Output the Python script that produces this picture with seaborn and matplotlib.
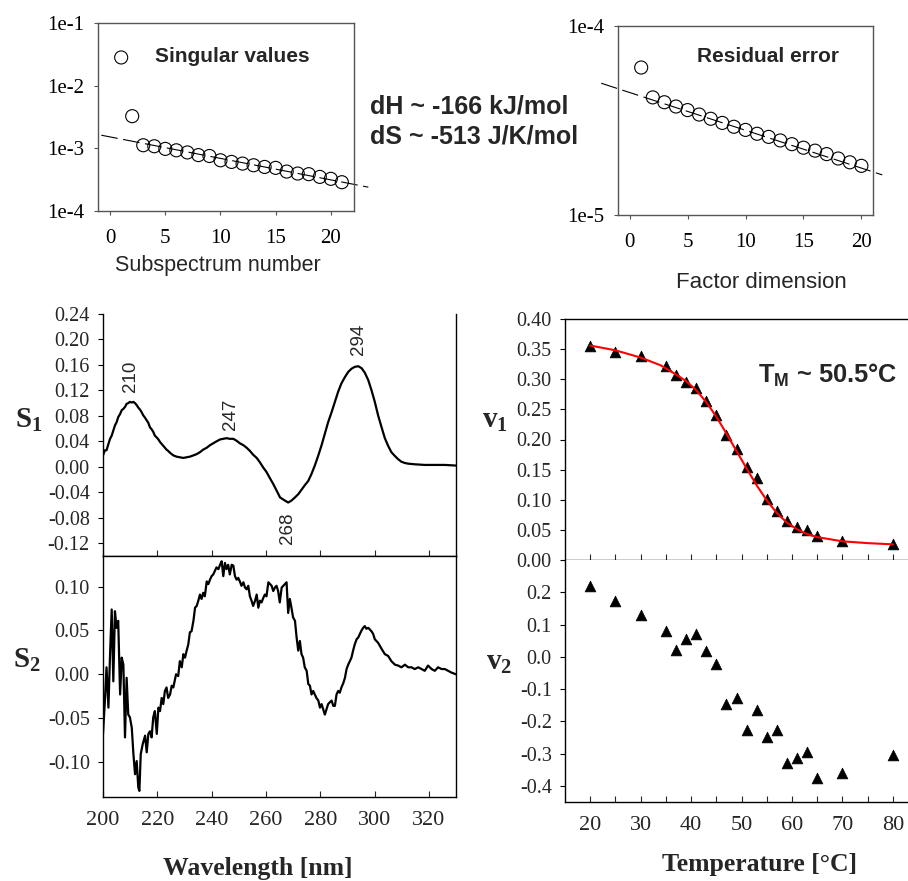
import numpy as np
import matplotlib
matplotlib.use("Agg")
import matplotlib.pyplot as plt
import seaborn as sns
from matplotlib.ticker import FixedLocator, FuncFormatter, NullLocator

# ---------------- data ----------------
sv_index = list(range(1, 22))
sv_values = [2.82e-2, 3.26e-3, 1.12e-3, 1.08e-3, 9.8e-4, 9.3e-4, 8.6e-4, 7.8e-4,
             7.55e-4, 6.45e-4, 6.07e-4, 5.71e-4, 5.37e-4, 5.05e-4, 4.88e-4, 4.26e-4,
             3.96e-4, 3.87e-4, 3.5e-4, 3.26e-4, 2.88e-4]
sv_fit_x = [-0.8, 23.4]
sv_fit_y = [1.62e-3, 2.4e-4]

re_index = list(range(1, 21))
re_values = [6.03e-5, 4.19e-5, 3.95e-5, 3.75e-5, 3.59e-5, 3.40e-5, 3.23e-5, 3.07e-5,
             2.93e-5, 2.82e-5, 2.69e-5, 2.59e-5, 2.48e-5, 2.37e-5, 2.27e-5, 2.19e-5,
             2.10e-5, 1.99e-5, 1.90e-5, 1.82e-5]
re_fit_x = [-2.45, 21.8]
re_fit_y = [4.98e-5, 1.63e-5]

s1_wl = [200.0, 200.7, 201.3, 202.0, 202.6, 203.2, 203.8, 204.4, 205.0, 205.6,
         206.3, 206.9, 207.5, 208.1, 208.7, 209.3, 209.9, 210.6, 211.2, 211.8,
         212.4, 213.0, 213.6, 214.2, 214.8, 215.5, 216.1, 216.7, 217.3, 217.9,
         218.5, 219.1, 219.8, 220.4, 221.0, 221.6, 222.2, 222.8, 223.4, 224.0,
         224.7, 225.3, 225.9, 226.5, 227.1,
         228.3, 229.6, 230.8, 232.0, 233.3, 234.5, 235.7, 236.9, 238.2, 239.4,
         240.6, 241.8, 243.1, 244.3, 245.5, 246.7, 248.0, 249.2, 250.4, 251.7,
         252.9, 254.1, 255.3, 256.6, 257.8, 259.0, 260.2, 261.5, 262.7, 263.9,
         265.2,
         267.0, 268.2, 269.4, 270.7, 271.9, 273.1, 274.3, 275.6, 276.8, 278.0,
         279.3, 280.5, 281.7, 282.9, 284.2, 285.4, 286.6, 287.8, 289.1, 290.3,
         291.5, 292.7, 294.0, 295.2, 296.4, 297.7, 298.9, 300.1, 301.3, 302.6,
         303.8, 305.0, 306.2, 307.5, 308.7, 309.9, 311.2, 312.4,
         314.8, 318.5, 322.2, 325.9, 330.0]
s1_val = [0.018, 0.026, 0.026, 0.036, 0.044, 0.049, 0.057, 0.065, 0.070, 0.078,
          0.083, 0.089, 0.091, 0.094, 0.099, 0.100, 0.102, 0.101, 0.102, 0.100,
          0.097, 0.093, 0.090, 0.086, 0.081, 0.077, 0.073, 0.069, 0.062, 0.059,
          0.055, 0.049, 0.046, 0.043, 0.039, 0.036, 0.033, 0.030, 0.027, 0.025,
          0.022, 0.020, 0.018, 0.017, 0.016,
          0.015, 0.014, 0.015, 0.016, 0.018, 0.020, 0.023, 0.027, 0.030, 0.034,
          0.037, 0.040, 0.043, 0.044, 0.045, 0.044, 0.044, 0.041, 0.037, 0.034,
          0.030, 0.025, 0.019, 0.014, 0.007, -0.001, -0.008, -0.018, -0.027, -0.037,
          -0.048,
          -0.053, -0.056, -0.053, -0.048, -0.043, -0.036, -0.029, -0.022, -0.011, 0.002,
          0.018, 0.034, 0.052, 0.070, 0.086, 0.102, 0.118, 0.131, 0.141, 0.149,
          0.154, 0.157, 0.158, 0.155, 0.148, 0.136, 0.120, 0.102, 0.081, 0.062,
          0.045, 0.033, 0.023, 0.017, 0.012, 0.008, 0.006, 0.005,
          0.004, 0.003, 0.003, 0.003, 0.002]

s2_wl = [200.0, 200.7, 201.3, 202.0, 202.6, 203.2, 203.8, 204.4, 205.0, 205.6,
         206.3, 206.9, 207.5, 208.1, 208.7, 209.3, 209.9, 210.6, 211.2, 211.8,
         212.4, 213.0, 213.4, 213.9, 214.6, 215.5, 216.1, 216.7, 217.3, 217.9,
         218.5, 219.1, 219.8, 220.4, 221.0, 221.6, 222.2, 222.8, 223.4, 224.0,
         224.7, 225.3, 225.9, 226.9, 227.7, 228.3, 229.0, 229.6, 230.2, 230.8,
         231.4, 232.0, 232.6, 233.3, 233.9, 234.5, 235.1, 235.7, 236.3, 236.9,
         237.5, 238.2, 238.8, 239.4, 240.0, 240.6, 241.2, 241.8, 242.5, 243.1,
         243.7, 244.3, 244.9, 245.5, 246.1, 246.7, 247.4, 248.0, 248.6, 249.2,
         249.8, 250.4, 251.0, 251.7, 252.3, 252.9, 253.5, 254.1, 254.7, 255.3,
         256.0, 256.6, 257.2, 257.8, 258.4, 259.0, 259.6, 260.2, 260.9, 261.5,
         262.1, 262.7, 263.3,
         263.9, 264.5, 265.1, 265.8, 266.4, 267.0, 267.6, 268.2, 268.8, 269.4,
         270.0, 270.7, 271.3, 271.9, 272.5, 273.1, 273.7, 274.3, 275.0, 275.6,
         276.2, 276.8, 277.4, 278.0, 278.6, 279.3, 279.9, 280.5, 281.1, 281.7,
         282.3, 282.9, 283.5, 284.2, 284.8, 285.4, 286.0, 286.6, 287.2, 287.8,
         288.5, 289.1, 289.7, 290.3, 290.9, 291.5, 292.1, 292.7, 293.4, 294.0,
         294.6, 295.2, 295.8, 296.4, 297.0, 297.7, 298.3, 298.9, 299.5, 300.1,
         301.3, 302.6, 303.8, 305.0, 306.2, 307.5, 308.7, 309.9, 311.2, 312.4,
         313.6, 314.8, 316.1, 317.3, 318.5, 319.7, 321.0, 322.2, 323.4, 324.7,
         325.9, 327.1, 328.3, 330.0]
s2_val = [-0.068, -0.030, 0.008, -0.038, 0.023, 0.074, -0.008, 0.072, 0.053, 0.061,
          -0.023, 0.019, 0.011, -0.072, -0.004, -0.046, -0.049, -0.061, -0.091, -0.114,
          -0.099, -0.129, -0.133, -0.091, -0.080, -0.070, -0.089, -0.068, -0.065, -0.072,
          -0.049, -0.042, -0.068, -0.038, -0.042, -0.027, -0.034, -0.019, -0.015, -0.027,
          -0.023, -0.013, -0.015, 0.000, -0.002, 0.015, 0.008, 0.023, 0.019, 0.027,
          0.034, 0.048, 0.049, 0.061, 0.076, 0.078, 0.084, 0.091, 0.086, 0.093,
          0.089, 0.106, 0.103, 0.108, 0.112, 0.114, 0.118, 0.122, 0.120, 0.125,
          0.129, 0.112, 0.127, 0.120, 0.125, 0.114, 0.125, 0.124, 0.112, 0.108,
          0.110, 0.106, 0.101, 0.105, 0.099, 0.097, 0.101, 0.089, 0.084, 0.078,
          0.084, 0.091, 0.076, 0.084, 0.082, 0.087, 0.091, 0.089, 0.105, 0.103,
          0.101, 0.095, 0.099,
          0.101, 0.095, 0.082, 0.099, 0.101, 0.103, 0.105, 0.070, 0.086, 0.076,
          0.065, 0.061, 0.042, 0.027, 0.038, 0.023, 0.019, 0.008, 0.004, -0.011,
          -0.013, -0.023, -0.019, -0.023, -0.027, -0.030, -0.038, -0.034, -0.040, -0.046,
          -0.040, -0.034, -0.032, -0.030, -0.036, -0.036, -0.023, -0.019, -0.021, -0.015,
          -0.010, -0.004, 0.006, 0.011, 0.015, 0.019, 0.027, 0.034, 0.040, 0.042,
          0.046, 0.050, 0.053, 0.055, 0.052, 0.053, 0.051, 0.049, 0.046, 0.040,
          0.036, 0.029, 0.023, 0.021, 0.015, 0.011, 0.010, 0.008, 0.011, 0.008,
          0.008, 0.006, 0.008, 0.006, 0.004, 0.010, 0.006, 0.004, 0.008, 0.006,
          0.006, 0.004, 0.002, 0.000]

peak_wl = [210, 247, 294, 268]
peak_label_y = [0.142, 0.082, 0.200, -0.097]

temps = [20, 25, 30, 35, 37, 39, 41, 43, 45, 47, 49, 51, 53, 55, 57, 59, 61, 63, 65, 70, 80]
v1_vals = [0.356, 0.346, 0.338, 0.322, 0.307, 0.295, 0.286, 0.264, 0.241, 0.208, 0.184,
           0.155, 0.136, 0.101, 0.081, 0.064, 0.054, 0.049, 0.040, 0.032, 0.026]
v2_vals = [0.218, 0.174, 0.131, 0.081, 0.021, 0.054, 0.070, 0.019, -0.021, -0.147, -0.127,
           -0.228, -0.164, -0.249, -0.228, -0.328, -0.314, -0.296, -0.376, -0.360, -0.303]
fit_T = [20, 25, 30, 34, 37, 39, 41, 43, 45, 47, 49, 51, 53, 55, 57, 59, 61, 63, 65, 70, 75, 80]
fit_v = [0.356, 0.348, 0.336, 0.323, 0.308, 0.297, 0.282, 0.262, 0.238, 0.210, 0.181,
         0.152, 0.124, 0.099, 0.078, 0.062, 0.051, 0.043, 0.038, 0.031, 0.028, 0.026]

sv_yticks = [1e-4, 1e-3, 1e-2, 1e-1]
sv_ylabels = ["1e-4", "1e-3", "1e-2", "1e-1"]
re_yticks = [1e-5, 1e-4]
re_ylabels = ["1e-5", "1e-4"]
idx_ticks = [0, 5, 10, 15, 20]
wl_ticks = [200, 220, 240, 260, 280, 300, 320]
s1_yticks = [-0.12, -0.08, -0.04, 0.00, 0.04, 0.08, 0.12, 0.16, 0.20, 0.24]
s2_yticks = [-0.10, -0.05, 0.00, 0.05, 0.10]
t_ticks = [20, 25, 30, 35, 40, 45, 50, 55, 60, 65, 70, 75, 80]
v1_yticks = [0.00, 0.05, 0.10, 0.15, 0.20, 0.25, 0.30, 0.35, 0.40]
v2_yticks = [-0.4, -0.3, -0.2, -0.1, 0.0, 0.1, 0.2]

# ---------------- style ----------------
sns.set_theme(style="ticks")
plt.rcParams["font.family"] = ["Liberation Serif", "DejaVu Serif"]
plt.rcParams["axes.unicode_minus"] = False
plt.rcParams["mathtext.fontset"] = "custom"
plt.rcParams["mathtext.rm"] = "Liberation Serif"
plt.rcParams["mathtext.bf"] = "Liberation Serif:bold"
plt.rcParams["mathtext.sf"] = "Liberation Sans:bold"
plt.rcParams["lines.scale_dashes"] = False

W, H = 908, 881
fig = plt.figure(figsize=(W / 100, H / 100), dpi=100)


def box(l, t, r, b):
    return [l / W, 1 - b / H, (r - l) / W, (b - t) / H]


def fmt(nd):
    return FuncFormatter(lambda v, p: f"{round(v, nd) + 0:.{nd}f}")


SANS = ["Liberation Sans", "DejaVu Sans"]
GRAY = "#555555"

ax_sv = fig.add_axes(box(98, 23, 354, 211))
ax_re = fig.add_axes(box(618, 26, 873, 215))
ax_s1 = fig.add_axes(box(103, 314, 456, 556))
ax_s2 = fig.add_axes(box(103, 556, 456, 797))
ax_v1 = fig.add_axes(box(565, 319, 908, 560))
ax_v2 = fig.add_axes(box(565, 560, 908, 802))

# ---- singular values / residual error ----
for ax, xs, ys, fx_, fy_, yt, yl, ylim, xlim in [
    (ax_sv, sv_index, sv_values, sv_fit_x, sv_fit_y, sv_yticks, sv_ylabels, (1e-4, 1e-1), (-1.1, 22.1)),
    (ax_re, re_index, re_values, re_fit_x, re_fit_y, re_yticks, re_ylabels, (1e-5, 1e-4), (-1.0, 21.0)),
]:
    ax.set_yscale("log")
    sns.lineplot(x=fx_, y=fy_, ax=ax, color="black", lw=0.8, linestyle=(0, (12, 4)),
                 estimator=None, sort=False)
    ax.lines[-1].set_clip_on(False)
    sns.scatterplot(x=xs, y=ys, ax=ax, marker="o", s=88, facecolors="none",
                    edgecolor="black", linewidth=0.8, zorder=3)
    ax.set_ylim(*ylim)
    ax.set_xlim(*xlim)
    ax.yaxis.set_major_locator(FixedLocator(yt))
    ax.set_yticklabels(yl)
    ax.yaxis.set_minor_locator(NullLocator())
    ax.set_xticks(idx_ticks)
    ax.set_xticklabels([str(t) for t in idx_ticks])
    for s in ax.spines.values():
        s.set_visible(True)
        s.set_color(GRAY)
        s.set_linewidth(1.0)
    ax.tick_params(axis="both", direction="out", length=3, width=0.8, color=GRAY,
                   labelcolor="black")
    ax.tick_params(axis="y", labelsize=15, pad=7)
    ax.tick_params(axis="x", labelsize=15, pad=10)
    ax.set_xlabel("")
    ax.set_ylabel("")

fig.text(155 / W, 1 - 56 / H, "Singular values", family=SANS, weight="bold", fontsize=15,
         ha="left", va="center")
fig.text(697 / W, 1 - 57 / H, "Residual error", family=SANS, weight="bold", fontsize=15,
         ha="left", va="center")
fig.text(218 / W, 1 - 266 / H, "Subspectrum number", family=SANS, fontsize=15.5,
         ha="center", va="center")
fig.text(761 / W, 1 - 282 / H, "Factor dimension", family=SANS, fontsize=16,
         ha="center", va="center")
fig.text(370 / W, 1 - 107 / H, "dH ~ -166 kJ/mol", family=SANS, weight="bold", fontsize=18,
         ha="left", va="center")
fig.text(370 / W, 1 - 137 / H, "dS ~ -513 J/K/mol", family=SANS, weight="bold", fontsize=18,
         ha="left", va="center")

# ---- spectra ----
sns.lineplot(x=s1_wl, y=s1_val, ax=ax_s1, color="black", lw=1.6, estimator=None, sort=False)
sns.lineplot(x=s2_wl, y=s2_val, ax=ax_s2, color="black", lw=1.6, estimator=None, sort=False)
for ax in (ax_s1, ax_s2):
    ax.set_xlim(200, 330)
    ax.set_xticks(wl_ticks)
    ax.set_xlabel("")
    ax.set_ylabel("")
    for s in ax.spines.values():
        s.set_visible(True)
        s.set_color("black")
        s.set_linewidth(1.0)
    ax.tick_params(axis="y", direction="out", length=3.5, width=0.8, color="black",
                   labelsize=14.5, pad=6)
ax_s1.set_ylim(-0.14, 0.24)
ax_s1.yaxis.set_major_locator(FixedLocator(s1_yticks))
ax_s1.yaxis.set_major_formatter(fmt(2))
ax_s1.spines["top"].set_visible(False)
ax_s1.tick_params(axis="x", direction="in", length=4, width=0.8, labelbottom=False)
ax_s2.set_ylim(-0.14, 0.135)
ax_s2.yaxis.set_major_locator(FixedLocator(s2_yticks))
ax_s2.yaxis.set_major_formatter(fmt(2))
ax_s2.tick_params(axis="x", direction="in", length=4, width=0.8, labelsize=16, pad=10)
ax_s2.set_xticklabels([str(t) for t in wl_ticks])

for wl, yy in zip(peak_wl, peak_label_y):
    ax_s1.text(wl, yy, str(wl), rotation=90, family=SANS, fontsize=13.5,
               ha="center", va="center")

fig.text(29 / W, 1 - 420 / H, r"$\mathbf{S_1}$", fontsize=21, ha="center", va="center")
fig.text(27 / W, 1 - 660 / H, r"$\mathbf{S_2}$", fontsize=21, ha="center", va="center")
fig.text(258 / W, 1 - 868 / H, "Wavelength [nm]", weight="bold", fontsize=18.5,
         ha="center", va="center")

# ---- temperature ----
sns.scatterplot(x=temps, y=v1_vals, ax=ax_v1, marker="^", s=60, color="black",
                edgecolor="black", linewidth=0.5, zorder=2)
sns.lineplot(x=fit_T, y=fit_v, ax=ax_v1, color="red", lw=1.5, estimator=None, sort=False,
             zorder=3)
sns.scatterplot(x=temps, y=v2_vals, ax=ax_v2, marker="^", s=60, color="black",
                edgecolor="black", linewidth=0.5, zorder=2)
for ax in (ax_v1, ax_v2):
    ax.set_xlim(15, 83)
    ax.set_xticks(t_ticks)
    ax.set_xlabel("")
    ax.set_ylabel("")
    for s in ax.spines.values():
        s.set_visible(True)
        s.set_color("black")
        s.set_linewidth(1.0)
    ax.spines["right"].set_visible(False)
    ax.tick_params(axis="y", direction="out", length=3.5, width=0.8, color="black",
                   labelsize=14.5, pad=6)
ax_v1.set_ylim(0, 0.40)
ax_v1.yaxis.set_major_locator(FixedLocator(v1_yticks))
ax_v1.yaxis.set_major_formatter(fmt(2))
ax_v1.tick_params(axis="x", direction="in", length=4, width=0.8, labelbottom=False)
ax_v2.set_ylim(-0.45, 0.30)
ax_v2.yaxis.set_major_locator(FixedLocator(v2_yticks))
ax_v2.yaxis.set_major_formatter(fmt(1))
ax_v2.spines["top"].set_visible(False)
ax_v2.tick_params(axis="x", direction="in", length=4, width=0.8, labelsize=16, pad=10)
ax_v2.set_xticklabels([str(t) if t % 10 == 0 else "" for t in t_ticks])

fig.text(758 / W, 1 - 375 / H, r"$\mathsf{T_M}$ ~ 50.5°C", family=SANS, weight="bold",
         fontsize=18.3, ha="left", va="center")
fig.text(495 / W, 1 - 421 / H, r"$\mathbf{v_1}$", fontsize=21, ha="center", va="center")
fig.text(499 / W, 1 - 663 / H, r"$\mathbf{v_2}$", fontsize=21, ha="center", va="center")
fig.text(759 / W, 1 - 864 / H, "Temperature [°C]", weight="bold", fontsize=18.5,
         ha="center", va="center")

fig.savefig("out.png", dpi=100)
